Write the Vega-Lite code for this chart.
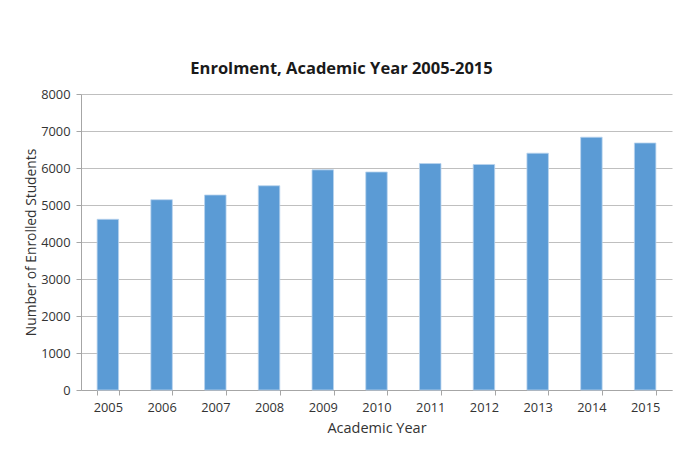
{
  "$schema": "https://vega.github.io/schema/vega-lite/v6.json",
  "width": 591,
  "height": 296,
  "autosize": {"type": "none"},
  "padding": {"left": 81, "top": 94, "right": 4, "bottom": 59},
  "background": "#ffffff",
  "title": {
    "text": "Enrolment, Academic Year 2005-2015",
    "font": "Open Sans",
    "fontSize": 16.5,
    "fontWeight": "bold",
    "color": "#1a1a1a",
    "anchor": "middle",
    "dx": -35,
    "offset": 11
  },
  "data": {
    "values": [
      {"year": "2005", "students": 4614},
      {"year": "2006", "students": 5143},
      {"year": "2007", "students": 5270},
      {"year": "2008", "students": 5520},
      {"year": "2009", "students": 5950},
      {"year": "2010", "students": 5892},
      {"year": "2011", "students": 6120},
      {"year": "2012", "students": 6095},
      {"year": "2013", "students": 6400},
      {"year": "2014", "students": 6832},
      {"year": "2015", "students": 6676}
    ]
  },
  "mark": {"type": "bar", "color": "#5b9bd5", "stroke": "#b9d3ee", "strokeWidth": 0.8},
  "encoding": {
    "x": {
      "field": "year",
      "type": "ordinal",
      "scale": {"paddingInner": 0.6, "paddingOuter": 0.3},
      "axis": {
        "title": "Academic Year",
        "labelAngle": 0,
        "tickBand": "extent",
        "grid": false,
        "domainColor": "#a6a6a6",
        "tickColor": "#a6a6a6",
        "tickSize": 5,
        "labelPadding": 6,
        "titlePadding": 8
      }
    },
    "y": {
      "field": "students",
      "type": "quantitative",
      "scale": {"domain": [0, 8000]},
      "axis": {
        "title": "Number of Enrolled Students",
        "titleFontSize": 13.8,
        "values": [0, 1000, 2000, 3000, 4000, 5000, 6000, 7000, 8000],
        "format": "d",
        "grid": true,
        "gridColor": "#bfbfbf",
        "gridWidth": 1.2,
        "domain": true,
        "domainColor": "#a6a6a6",
        "tickColor": "#a6a6a6",
        "tickSize": 5,
        "labelPadding": 6,
        "titlePadding": 2
      }
    }
  },
  "config": {
    "view": {"stroke": null},
    "axis": {
      "labelFont": "Open Sans",
      "labelFontSize": 12.8,
      "labelColor": "#333333",
      "titleFont": "Open Sans",
      "titleFontSize": 14.5,
      "titleFontWeight": "normal",
      "titleColor": "#333333"
    }
  }
}
